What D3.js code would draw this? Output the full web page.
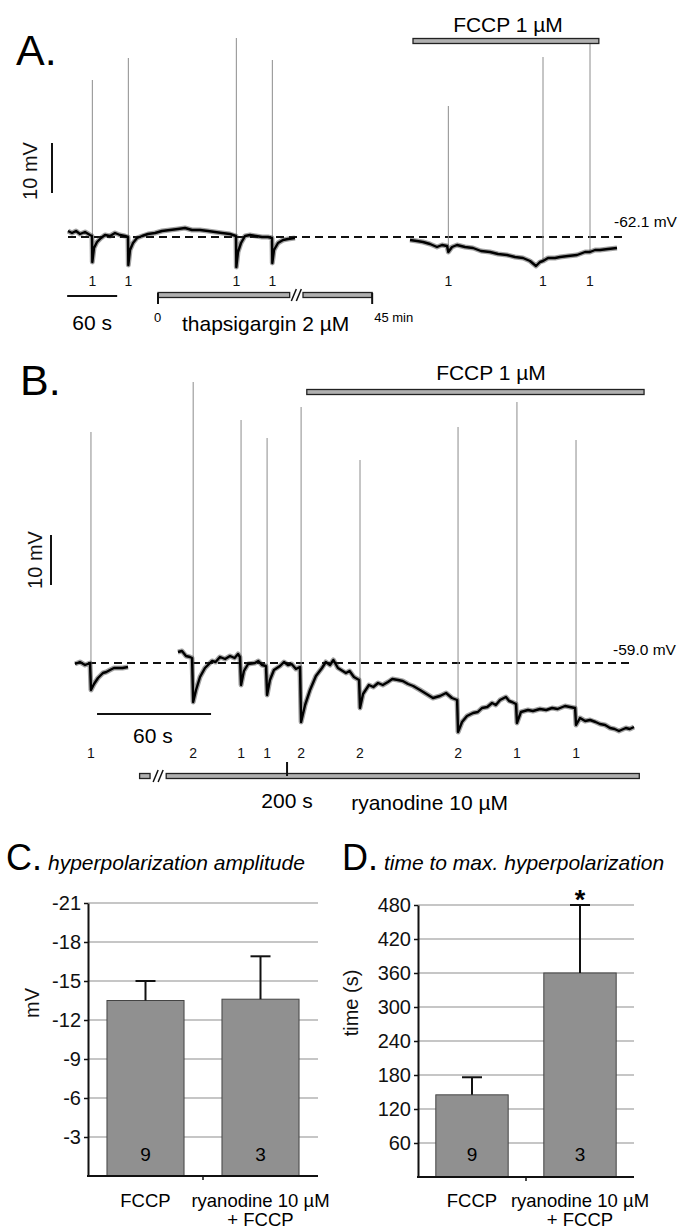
<!DOCTYPE html>
<html>
<head>
<meta charset="utf-8">
<script src="https://cdn.jsdelivr.net/npm/d3@7"></script>
<style>
  body { margin: 0; background: #fff; }
  svg { display: block; }
</style>
</head>
<body>
<script>
// ---- panel A : recording before / after thapsigargin, then FCCP ----
// trace points are [time (s), mV relative to resting -62.1 mV]
var restA = "-62.1 mV";
var traceA1 = [[0,1.2],[4.8,0.8],[9.6,1.2],[14.4,0.6],[20.4,1.0],[26.4,0.4],[28.8,0.2],[29.2,-5.0],[31.2,-2.2],[34.8,-1.0],
  [39.6,-0.2],[44.4,0.4],[50.4,0.2],[56.4,0.8],[62.4,0.4],[68.4,0.2],[72,0],[72.4,-5.6],[74.4,-2.6],[78,-1.2],[82.8,-0.2],
  [88.8,0.2],[96,0.6],[104.4,0.8],[112.8,1.2],[122.4,1.4],[132,1.6],[140.4,1.8],[148.8,1.4],[158.4,1.4],[168,1.2],[176.4,1.0],
  [184.8,0.8],[194.4,0.6],[201.6,0.2],[202,-6.0],[204,-3.0],[207.6,-1.2],[212.4,0.2],[218.4,0.4],[225.6,0.2],[232.8,0],
  [240,0],[244.8,-0.2],[245.2,-5.2],[247.2,-2.6],[252,-1.2],[258,-0.6],[264,-0.4],[272.4,-0.2]];
var traceA2 = [[410.4,-0.6],[418.8,-0.8],[426,-1.0],[434.4,-1.4],[442.8,-2.0],[448.8,-1.6],[454.8,-1.8],[456.4,-3.0],
  [460.8,-2.0],[466.8,-1.6],[476.4,-2.0],[486,-2.2],[495.6,-2.8],[506.4,-3.0],[516,-3.4],[526.8,-3.6],[536.4,-4.0],
  [546,-4.2],[554.4,-4.8],[561.6,-5.8],[566.4,-5.0],[570,-4.8],[576,-4.2],[584.4,-4.2],[590.4,-4.0],[600,-3.8],
  [610.8,-3.6],[620.4,-3.0],[626.4,-3.0],[632.4,-2.6],[638.4,-2.6],[648,-2.4],[658.8,-2.2]];
var spikeTimesA = [29.2, 72.4, 202, 245.2, 456.4, 570, 626.4];
var spikeBaseA = [-5.0, -5.6, -6.0, -5.2, -3.0, -4.8, -3.0];
var spikePeakA = [31.4, 35.8, 39.8, 35.4, 26.2, 36.0, 38.8];
var spikeCountA = [1, 1, 1, 1, 1, 1, 1];
var fccpA = [414, 637];
var thapsA = [[108, 266], [282, 365]];

// ---- panel B : ryanodine, then FCCP ----
var restB = "-59.0 mV";
var traceB1 = [[0,-0.2],[2.6,0.2],[5.3,-0.4],[7.9,0],[8.4,-5.4],[10,-4.2],[12.1,-3],[14.7,-2],[16.5,-1.8],[18.4,-1.4],
  [20.5,-1.0],[22.6,-1],[25,-1.0],[27.9,-0.8]];
var traceB2 = [[54.2,2.2],[56.3,2.4],[58.4,1.4],[60.5,1.2],[61.6,1.0],[62.2,-7.8],[63.7,-5.4],[65.8,-2.8],[68.4,-1],
  [72.1,0.4],[74,0.2],[76.3,1.2],[79,0.8],[81.6,1.4],[84,1.0],[85.8,1.8],[86.8,1.2],[87.4,-4.4],[88.9,-1.6],[91.1,-0.2],
  [94.7,0],[96.5,0.4],[98.4,-0.4],[100.5,-0.6],[101.1,-6.4],[102.6,-3.4],[104.7,-1.4],[107.9,-0.6],[110,0.2],[112.1,-0.4],
  [114,-0.2],[116.3,-1.2],[118.4,-0.8],[119,-11.8],[121.1,-8.4],[123.7,-5.4],[126.8,-2.6],[130,-1],[132,0.2],[134.2,-0.4],
  [136,0.6],[138.4,-1],[142.6,-2],[144.5,-1.6],[146.8,-2.8],[149.5,-3.4],[150,-9],[151.6,-6.2],[154.7,-4.4],[157,-4.8],
  [159.5,-4],[162,-4.4],[164.7,-3.8],[167,-3.2],[170,-3.4],[172.5,-3.6],[175.3,-4.2],[178,-4.6],[181.6,-5.4],[185,-6.2],
  [188.4,-7],[192.1,-6.6],[195.3,-6],[198.4,-7],[201.1,-7.4],[201.6,-13.8],[203.7,-11.8],[206.3,-10.6],[209.5,-10],
  [212,-9.8],[214.2,-9],[217,-8.8],[219.5,-8],[221.5,-8.4],[223.7,-7.4],[226.8,-6.8],[228.5,-7.6],[230,-7.8],[232.1,-8.2],
  [232.6,-12],[234.7,-9.8],[238.4,-9.4],[241,-9.6],[244.7,-9.2],[248,-9.4],[251.1,-9],[254,-9.2],[257.9,-8.6],[260.5,-8.8],
  [263.2,-9],[263.7,-12.4],[265.8,-11],[268.5,-11.6],[271.1,-11.4],[274,-11.8],[276.3,-12.2],[279,-12.4],[281.6,-13],
  [284,-13.2],[286.3,-13.6],[289.9,-13],[292,-13.2],[294.2,-12.8]];
var spikeTimesB = [8.4, 62.2, 87.4, 101.1, 119, 150, 201.6, 232.6, 263.7];
var spikeBaseB = [-5.4, -7.8, -4.4, -6.4, -11.8, -9, -13.8, -12, -12.4];
var spikePeakB = [46.2, 56.2, 48.6, 45, 51.2, 40.6, 47.2, 52.2, 44.6];
var spikeCountB = [1, 2, 1, 1, 2, 2, 2, 1, 1];
var fccpB = [122, 299.5];
var ryanB = [[34, 39.5], [48, 297]];
var ryanMark = 111.6;   // "200 s"

// ---- panels C / D : summary bars ----
var groups = ["FCCP", "ryanodine 10 \u00b5M"];
var groupsLine2 = ["", "+ FCCP"];
var nCells = [9, 3];
var ampMean = [-13.5, -13.6];
var ampErr = [1.5, 3.3];
var ampTicks = [-3, -6, -9, -12, -15, -18, -21];
var timeMean = [145, 360];
var timeErr = [31, 120];
var timeTicks = [60, 120, 180, 240, 300, 360, 420, 480];

var font = "'Liberation Sans', Arial, Helvetica, sans-serif";
var svg = d3.select("body").append("svg")
    .attr("width", 692)
    .attr("height", 1232)
    .style("font-family", font);

svg.append("rect").attr("width", 692).attr("height", 1232).attr("fill", "#fff");

// hollow "drug application" bar
function drugBar(g, x1, x2, y) {
    g.append("rect")
        .attr("x", x1).attr("y", y - 2.5)
        .attr("width", x2 - x1).attr("height", 5)
        .attr("fill", "#b0b0b0")
        .attr("stroke", "#222")
        .attr("stroke-width", 1.3);
}

function breakMark(g, x, y) {
    [0, 5].forEach(function (dx) {
        g.append("line")
            .attr("x1", x + dx - 2).attr("y1", y + 6)
            .attr("x2", x + dx + 3).attr("y2", y - 6)
            .attr("stroke", "#111").attr("stroke-width", 1.5);
    });
}

function drawTrace(g, x, y, segments, spikeT, spikeBase, spikePeak, counts, dashEnd, countY) {
    var line = d3.line().x(d => x(d[0])).y(d => y(d[1]));

    g.append("line")
        .attr("x1", x(0)).attr("x2", x(dashEnd))
        .attr("y1", y(0)).attr("y2", y(0))
        .attr("stroke", "#111")
        .attr("stroke-width", 2)
        .attr("stroke-dasharray", "8,5");

    g.selectAll(".spike")
        .data(spikeT)
        .enter().append("line")
        .attr("class", "spike")
        .attr("x1", d => x(d)).attr("x2", d => x(d))
        .attr("y1", (d, i) => y(spikeBase[i]))
        .attr("y2", (d, i) => y(spikePeak[i]))
        .attr("stroke", "#8c8c8c")
        .attr("stroke-width", 1);

    // noisy recording: a soft wide band under a dark core line
    segments.forEach(function (seg) {
        g.append("path")
            .datum(seg)
            .attr("d", line)
            .attr("fill", "none")
            .attr("stroke", "#333")
            .attr("stroke-opacity", 0.45)
            .attr("stroke-width", 5)
            .attr("stroke-linejoin", "round");
        g.append("path")
            .datum(seg)
            .attr("d", line)
            .attr("fill", "none")
            .attr("stroke", "#000")
            .attr("stroke-width", 2.4)
            .attr("stroke-linejoin", "round");
    });

    g.selectAll(".count")
        .data(spikeT)
        .enter().append("text")
        .attr("class", "count")
        .attr("x", d => x(d))
        .attr("y", countY)
        .attr("text-anchor", "middle")
        .attr("font-size", 14)
        .attr("fill", "#111")
        .text((d, i) => counts[i]);
}

function vertLabel(g, text, x, y, size) {
    g.append("text")
        .attr("transform", "translate(" + x + "," + y + ") rotate(-90)")
        .attr("text-anchor", "middle")
        .attr("font-size", size)
        .attr("fill", "#111")
        .text(text);
}

// ================= A =================
var gA = svg.append("g");
var xA = d3.scaleLinear().domain([0, 660]).range([68, 618]);
var yA = d3.scaleLinear().domain([0, 10]).range([237, 187]);

gA.append("text").attr("x", 16).attr("y", 65).attr("font-size", 43).text("A.");
drawTrace(gA, xA, yA, [traceA1, traceA2], spikeTimesA, spikeBaseA, spikePeakA, spikeCountA, 666, 286);

// 10 mV scale bar
gA.append("line").attr("x1", 52).attr("x2", 52).attr("y1", yA(10) - 44).attr("y2", yA(0) - 44)
    .attr("stroke", "#111").attr("stroke-width", 2);
vertLabel(gA, "10 mV", 37, 171, 20);
gA.append("text").attr("x", 614).attr("y", 227).attr("font-size", 15.5).text(restA);

drugBar(gA, xA(fccpA[0]), xA(fccpA[1]), 41);
gA.append("text").attr("x", 508).attr("y", 32).attr("text-anchor", "middle").attr("font-size", 21).text("FCCP 1 \u00b5M");

// 60 s bar
gA.append("line").attr("x1", xA(-1)).attr("x2", xA(59)).attr("y1", 296).attr("y2", 296)
    .attr("stroke", "#111").attr("stroke-width", 2);
gA.append("text").attr("x", xA(29)).attr("y", 330).attr("text-anchor", "middle").attr("font-size", 21).text("60 s");

// thapsigargin bar with break
drugBar(gA, xA(thapsA[0][0]), xA(thapsA[0][1]), 295);
drugBar(gA, xA(thapsA[1][0]), xA(thapsA[1][1]), 295);
breakMark(gA, xA((thapsA[0][1] + thapsA[1][0]) / 2) - 3, 295);
[thapsA[0][0], thapsA[1][1]].forEach(function (t) {
    gA.append("line").attr("x1", xA(t)).attr("x2", xA(t)).attr("y1", 293).attr("y2", 304)
        .attr("stroke", "#111").attr("stroke-width", 2);
});
gA.append("text").attr("x", xA(thapsA[0][0]) - 4).attr("y", 322).attr("font-size", 13).text("0");
gA.append("text").attr("x", xA(thapsA[1][1]) + 2).attr("y", 322).attr("font-size", 13).text("45 min");
gA.append("text").attr("x", 182).attr("y", 331).attr("font-size", 21).text("thapsigargin 2 \u00b5M");

// ================= B =================
var gB = svg.append("g");
var xB = d3.scaleLinear().domain([0, 300]).range([75, 645]);
var yB = d3.scaleLinear().domain([0, 10]).range([663, 613]);

gB.append("text").attr("x", 20).attr("y", 395).attr("font-size", 43).text("B.");
drawTrace(gB, xB, yB, [traceB1, traceB2], spikeTimesB, spikeBaseB, spikePeakB, spikeCountB, 294.2, 758);

gB.append("line").attr("x1", 51).attr("x2", 51).attr("y1", yB(10) - 78).attr("y2", yB(0) - 78)
    .attr("stroke", "#111").attr("stroke-width", 2);
vertLabel(gB, "10 mV", 42, 560, 20);
gB.append("text").attr("x", 613).attr("y", 655).attr("font-size", 15.5).text(restB);

drugBar(gB, xB(fccpB[0]), xB(fccpB[1]), 392);
gB.append("text").attr("x", 491).attr("y", 380).attr("text-anchor", "middle").attr("font-size", 21).text("FCCP 1 \u00b5M");

gB.append("line").attr("x1", xB(11.6)).attr("x2", xB(71.6)).attr("y1", 714).attr("y2", 714)
    .attr("stroke", "#111").attr("stroke-width", 2);
gB.append("text").attr("x", xB(41)).attr("y", 743).attr("text-anchor", "middle").attr("font-size", 21).text("60 s");

drugBar(gB, xB(ryanB[0][0]), xB(ryanB[0][1]), 776);
drugBar(gB, xB(ryanB[1][0]), xB(ryanB[1][1]), 776);
breakMark(gB, xB((ryanB[0][1] + ryanB[1][0]) / 2) - 3, 776);
gB.append("line").attr("x1", xB(ryanMark)).attr("x2", xB(ryanMark)).attr("y1", 762).attr("y2", 776)
    .attr("stroke", "#111").attr("stroke-width", 2);
gB.append("text").attr("x", xB(ryanMark)).attr("y", 808).attr("text-anchor", "middle").attr("font-size", 21).text("200 s");
gB.append("text").attr("x", 508).attr("y", 810).attr("text-anchor", "end").attr("font-size", 21).text("ryanodine 10 \u00b5M");

// ================= C / D =================
function barPanel(opt) {
    var g = svg.append("g");
    var x = d3.scaleBand().domain(groups).range([opt.x0, opt.x1]).paddingInner(0.33).paddingOuter(0.165);
    var y = d3.scaleLinear().domain(opt.domain).range([opt.yBottom, opt.yTop]);

    g.append("text").attr("x", opt.labelX).attr("y", 870).attr("font-size", 36).text(opt.letter);
    g.append("text").attr("x", opt.titleX).attr("y", 870).attr("font-size", 21)
        .attr("font-style", "italic").text(opt.title);

    g.selectAll(".grid")
        .data(opt.ticks)
        .enter().append("line")
        .attr("x1", opt.x0).attr("x2", opt.x1)
        .attr("y1", d => y(d)).attr("y2", d => y(d))
        .attr("stroke", "#b3b3b3").attr("stroke-width", 1.5);

    g.selectAll(".bar")
        .data(opt.mean)
        .enter().append("rect")
        .attr("x", (d, i) => x(groups[i]))
        .attr("width", x.bandwidth())
        .attr("y", d => y(d))
        .attr("height", d => opt.yBottom - y(d))
        .attr("fill", "#909090")
        .attr("stroke", "#444")
        .attr("stroke-width", 1);

    opt.mean.forEach(function (m, i) {
        var cx = x(groups[i]) + x.bandwidth() / 2;
        var top = y(m + opt.sign * opt.err[i]);
        g.append("line").attr("x1", cx).attr("x2", cx).attr("y1", y(m)).attr("y2", top)
            .attr("stroke", "#111").attr("stroke-width", 2);
        g.append("line").attr("x1", cx - 10).attr("x2", cx + 10).attr("y1", top).attr("y2", top)
            .attr("stroke", "#111").attr("stroke-width", 2);
        g.append("text").attr("x", cx).attr("y", 1161).attr("text-anchor", "middle")
            .attr("font-size", 19).text(nCells[i]);
        g.append("text").attr("x", cx).attr("y", 1207).attr("text-anchor", "middle")
            .attr("font-size", 18.5).text(groups[i]);
        g.append("text").attr("x", cx).attr("y", 1226).attr("text-anchor", "middle")
            .attr("font-size", 18.5).text(groupsLine2[i]);
    });

    var axis = g.append("g")
        .attr("transform", "translate(" + opt.x0 + ",0)")
        .call(d3.axisLeft(y).tickValues(opt.ticks).tickSize(4).tickSizeOuter(0).tickPadding(3)
            .tickFormat(d => String(d)));
    axis.selectAll("text").attr("font-size", 20).attr("font-family", font).attr("fill", "#111");
    axis.selectAll("line").attr("stroke", "#111").attr("stroke-width", 1.5);
    axis.select(".domain").attr("stroke", "#111").attr("stroke-width", 2);

    g.append("line").attr("x1", opt.x0 - 1).attr("x2", opt.x1).attr("y1", opt.yBottom).attr("y2", opt.yBottom)
        .attr("stroke", "#111").attr("stroke-width", 2);
    g.append("line").attr("x1", (opt.x0 + opt.x1) / 2).attr("x2", (opt.x0 + opt.x1) / 2)
        .attr("y1", opt.yBottom).attr("y2", opt.yBottom + 4)
        .attr("stroke", "#111").attr("stroke-width", 1.5);

    vertLabel(g, opt.yLabel, opt.yLabelX, 1003, 20);
    return { g: g, x: x, y: y };
}

barPanel({
    letter: "C.", labelX: 6, title: "hyperpolarization amplitude", titleX: 48,
    x0: 88, x1: 318, yBottom: 1176, yTop: 903, domain: [0, -21],
    ticks: ampTicks, mean: ampMean, err: ampErr, sign: -1, yLabel: "mV", yLabelX: 39
});

var pD = barPanel({
    letter: "D.", labelX: 342, title: "time to max. hyperpolarization", titleX: 384,
    x0: 418, x1: 634, yBottom: 1177, yTop: 905, domain: [0, 480],
    ticks: timeTicks, mean: timeMean, err: timeErr, sign: 1, yLabel: "time (s)", yLabelX: 358
});

pD.g.append("text")
    .attr("x", pD.x(groups[1]) + pD.x.bandwidth() / 2)
    .attr("y", 909)
    .attr("text-anchor", "middle")
    .attr("font-size", 27)
    .attr("font-weight", "bold")
    .text("*");
</script>
</body>
</html>
